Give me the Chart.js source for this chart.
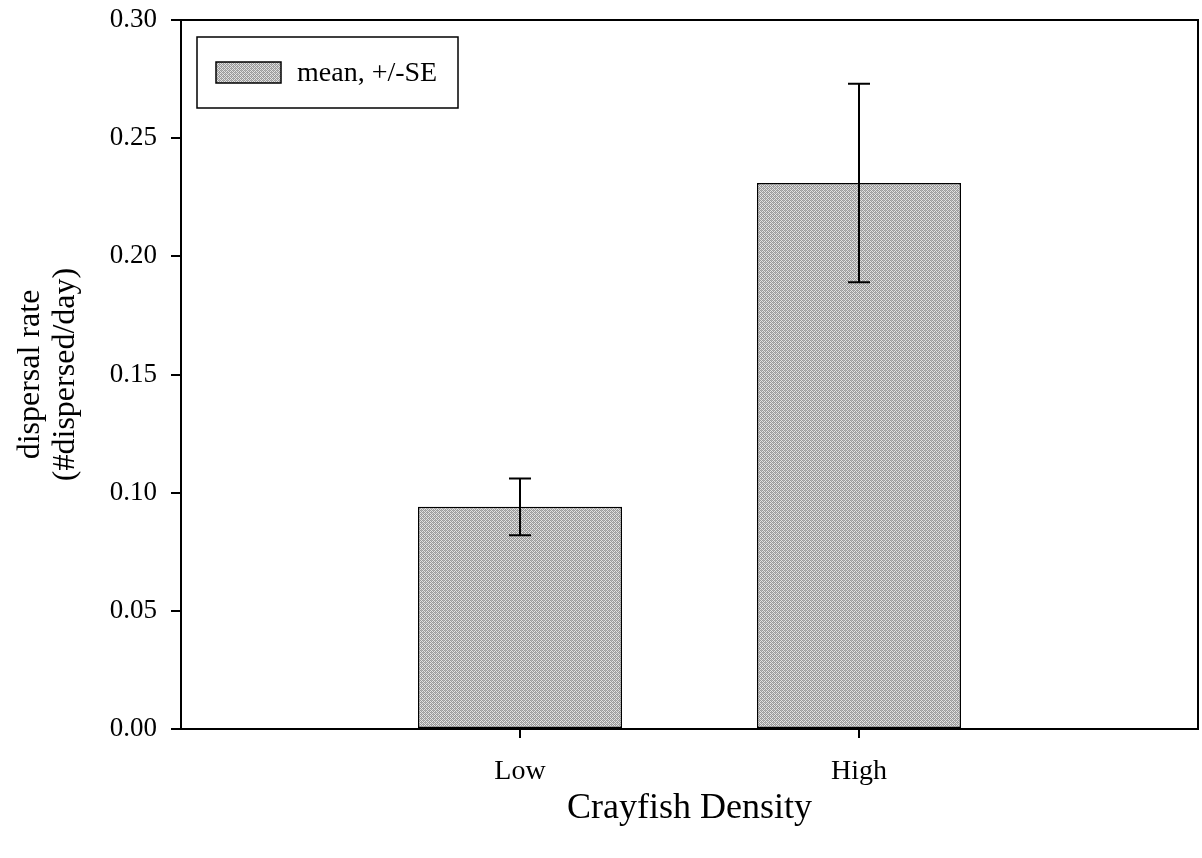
<!DOCTYPE html>
<html>
<head>
<meta charset="utf-8">
<script src="https://cdn.jsdelivr.net/npm/chart.js@4/dist/chart.umd.min.js"></script>
<style>
  html, body { margin: 0; padding: 0; background: #fff; }
  #wrap { width: 1202px; height: 858px; }
</style>
</head>
<body>
<div id="wrap"><canvas id="c" width="1202" height="858"></canvas></div>
<script>
// Crayfish density treatments (blank slots pad the axis on both sides)
const categories = ['', 'Low', 'High', ''];
// Mean dispersal rate (#dispersed/day) and its standard error
const meanRate = [null, 0.094, 0.231, null];
const seRate = [null, 0.012, 0.042, null];
// Y axis range and step
const yMin = 0.00;
const yMax = 0.30;
const yStep = 0.05;

const FONT = "'Liberation Serif', 'Times New Roman', serif";

// dithered grey fill for the bars
function makeDither() {
  const c = document.createElement('canvas');
  c.width = 4; c.height = 4;
  const g = c.getContext('2d');
  g.fillStyle = '#e2e2e2'; g.fillRect(0, 0, 4, 4);
  g.fillStyle = '#9a9a9a';
  for (let yy = 0; yy < 4; yy++) {
    for (let xx = 0; xx < 4; xx++) {
      if ((xx + yy) % 2 === 0) g.fillRect(xx, yy, 1, 1);
    }
  }
  g.fillStyle = '#b4b4b4';
  g.fillRect(1, 2, 1, 1);
  g.fillRect(3, 0, 1, 1);
  return g.createPattern(c, 'repeat');
}
const fill = makeDither();

// error bars drawn from seRate on top of the bars
const errorBars = {
  id: 'errorBars',
  afterDatasetsDraw(chart) {
    const ctx = chart.ctx;
    const y = chart.scales.y;
    const meta = chart.getDatasetMeta(0);
    ctx.save();
    ctx.strokeStyle = '#000';
    ctx.lineWidth = 2;
    meanRate.forEach((v, i) => {
      if (v == null || seRate[i] == null) return;
      const el = meta.data[i];
      const x = Math.round(el.x);
      const top = y.getPixelForValue(v + seRate[i]);
      const bot = y.getPixelForValue(v - seRate[i]);
      const cap = 11;
      ctx.beginPath();
      ctx.moveTo(x, top); ctx.lineTo(x, bot);
      ctx.moveTo(x - cap, top); ctx.lineTo(x + cap, top);
      ctx.moveTo(x - cap, bot); ctx.lineTo(x + cap, bot);
      ctx.stroke();
    });
    ctx.restore();
  }
};

// closed frame around the plot and the boxed legend in its upper-left corner
const frameAndLegend = {
  id: 'frameAndLegend',
  afterDraw(chart) {
    const ctx = chart.ctx;
    const a = chart.chartArea;
    ctx.save();
    ctx.strokeStyle = '#000';
    ctx.lineWidth = 2;
    ctx.strokeRect(a.left, a.top, a.right - a.left, a.bottom - a.top);

    const bx = a.left + 16, by = a.top + 17, bw = 261, bh = 71;
    ctx.fillStyle = '#fff';
    ctx.fillRect(bx, by, bw, bh);
    ctx.lineWidth = 1.5;
    ctx.strokeRect(bx, by, bw, bh);

    const sx = a.left + 35, sy = a.top + 42, sw = 65, sh = 21;
    ctx.fillStyle = fill;
    ctx.fillRect(sx, sy, sw, sh);
    ctx.lineWidth = 1.5;
    ctx.strokeRect(sx, sy, sw, sh);

    ctx.fillStyle = '#000';
    ctx.font = '28px ' + FONT;
    ctx.textBaseline = 'middle';
    ctx.textAlign = 'left';
    ctx.fillText(chart.data.datasets[0].label, a.left + 116, sy + sh / 2 + 1);
    ctx.restore();
  }
};

new Chart(document.getElementById('c'), {
  type: 'bar',
  data: {
    labels: categories,
    datasets: [{
      label: 'mean, +/-SE',
      data: meanRate,
      backgroundColor: fill,
      borderColor: '#000',
      borderWidth: 1.5,
      borderSkipped: false,
      barPercentage: 0.602,
      categoryPercentage: 1.0
    }]
  },
  options: {
    responsive: false,
    animation: false,
    events: [],
    layout: { padding: { top: 20, right: 4, bottom: 0, left: 0 } },
    plugins: {
      legend: { display: false },
      tooltip: { enabled: false }
    },
    scales: {
      x: {
        type: 'category',
        offset: false,
        border: { display: true, color: '#000', width: 2 },
        grid: {
          offset: false,
          drawOnChartArea: false,
          drawTicks: true,
          tickLength: 9,
          lineWidth: 2,
          color: (ctx) => (ctx.tick && ctx.tick.label) ? '#000' : 'rgba(0,0,0,0)'
        },
        ticks: {
          color: '#000',
          padding: 17,
          maxRotation: 0,
          autoSkip: false,
          font: { family: FONT, size: 28 }
        },
        title: {
          display: true,
          text: 'Crayfish Density',
          color: '#000',
          font: { family: FONT, size: 36 },
          padding: { top: 0, bottom: 28 }
        },
        afterFit(scale) {
          scale.height = 129;
          scale.paddingLeft = 0;
          scale.paddingRight = 0;
        }
      },
      y: {
        min: yMin,
        max: yMax,
        border: { display: true, color: '#000', width: 2 },
        grid: {
          drawOnChartArea: false,
          drawTicks: true,
          tickLength: 10,
          lineWidth: 2,
          color: '#000'
        },
        ticks: {
          stepSize: yStep,
          color: '#000',
          padding: 14,
          font: { family: FONT, size: 27 },
          callback: (v) => Number(v).toFixed(2)
        },
        title: {
          display: true,
          text: ['dispersal rate', '(#dispersed/day)'],
          color: '#000',
          font: { family: FONT, size: 32, lineHeight: 1.1 },
          padding: { top: 13, bottom: 0 }
        },
        afterFit(scale) {
          scale.width = 181;
          scale.paddingTop = 0;
          scale.paddingBottom = 0;
        }
      }
    }
  },
  plugins: [errorBars, frameAndLegend]
});
</script>
</body>
</html>
